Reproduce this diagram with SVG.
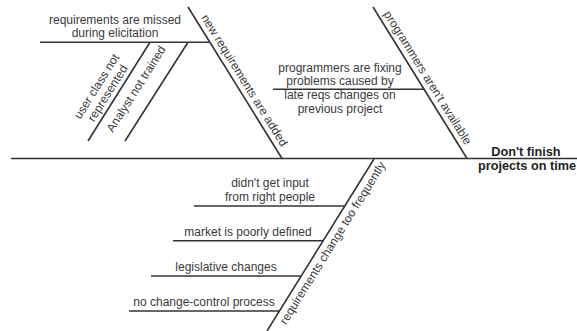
<svg xmlns="http://www.w3.org/2000/svg" width="577" height="331" viewBox="0 0 577 331">
<style>
.ln{stroke:#333;stroke-width:1.6;fill:none;stroke-linecap:butt}
.t{font-family:"Liberation Sans",Arial,sans-serif;font-size:12px;fill:#3a3a3a}
.c{text-anchor:middle}
.b{font-family:"Liberation Sans",Arial,sans-serif;font-size:12.7px;font-weight:bold;fill:#222;text-anchor:middle}
</style>
<rect width="577" height="331" fill="#fff"/>
<g id="connectors">
<line class="ln" x1="11" y1="158.5" x2="577" y2="158.5"/>
<line class="ln" x1="188" y1="7" x2="282" y2="158.5"/>
<line class="ln" x1="373" y1="7" x2="467" y2="158.5"/>
<line class="ln" x1="374" y1="159" x2="267" y2="331"/>
<line class="ln" x1="40" y1="42.3" x2="210" y2="42.3"/>
<line class="ln" x1="150" y1="42.3" x2="88" y2="141"/>
<line class="ln" x1="188" y1="42.3" x2="125" y2="141"/>
<line class="ln" x1="273" y1="89.3" x2="424" y2="89.3"/>
<line class="ln" x1="194" y1="206" x2="345" y2="206"/>
<line class="ln" x1="173" y1="240.7" x2="323.3" y2="240.7"/>
<line class="ln" x1="151" y1="276" x2="301.3" y2="276"/>
<line class="ln" x1="129" y1="311" x2="279.5" y2="311"/>
</g>
<g id="effect">
<text class="b" x="526" y="155.5">Don't finish</text>
<text class="b" x="527" y="169.5">projects on time</text>
</g>
<g id="new-requirements">
<text class="t c" transform="translate(241,82.5) rotate(58.1)">new requirements are added</text>
</g>
<g id="missed-elicitation">
<text class="t c" x="115" y="24">requirements are missed</text>
<text class="t c" x="115" y="37">during elicitation</text>
</g>
<g id="user-class">
<text class="t c" transform="translate(100,88.5) rotate(-57.9)">user class not</text>
<text class="t c" transform="translate(111,95.3) rotate(-57.9)">represented</text>
</g>
<g id="analyst">
<text class="t c" transform="translate(139.5,91) rotate(-57.5)">Analyst not trained</text>
</g>
<g id="programmers-unavailable">
<text class="t c" transform="translate(424.3,79.8) rotate(58.1)">programmers aren't available</text>
</g>
<g id="fixing-problems">
<text class="t c" x="340" y="71.7">programmers are fixing</text>
<text class="t c" x="340" y="85">problems caused by</text>
<text class="t c" x="340" y="99.3">late reqs changes on</text>
<text class="t c" x="340" y="112.7">previous project</text>
</g>
<g id="requirements-change">
<text class="t c" transform="translate(336,245) rotate(-58.1)">requirements change too frequently</text>
</g>
<g id="no-input">
<text class="t c" x="270" y="187.3">didn't get input</text>
<text class="t c" x="270" y="200.7">from right people</text>
</g>
<g id="market">
<text class="t c" x="248" y="236">market is poorly defined</text>
</g>
<g id="legislative">
<text class="t c" x="226" y="270.7">legislative changes</text>
</g>
<g id="change-control">
<text class="t c" x="204" y="305.7">no change-control process</text>
</g>
</svg>
